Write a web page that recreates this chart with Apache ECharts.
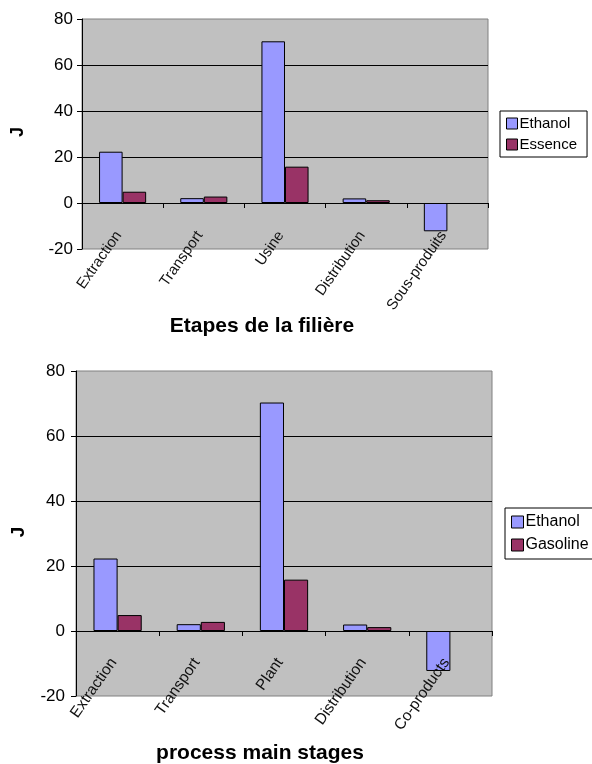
<!DOCTYPE html>
<html>
<head>
<meta charset="utf-8">
<script src="https://cdn.jsdelivr.net/npm/echarts@6/dist/echarts.min.js"></script>
<style>
  html, body { margin: 0; padding: 0; background: #fff; }
  #chart { width: 592px; height: 764px; }
</style>
</head>
<body>
<div id="chart"></div>
<script>
// Stage labels (French, then English)
const stagesFr = ['Extraction', 'Transport', 'Usine', 'Distribution', 'Sous-produits'];
const stagesEn = ['Extraction', 'Transport', 'Plant', 'Distribution', 'Co-products'];

// Energy per stage, J (no fossil-fuel entry for co-products)
const ethanolValues = [22.3, 2.1, 70.3, 2.0, -12.3];
const fossilValues  = [4.9, 2.8, 15.8, 1.2, null];

// Series names
const nameEthanol = 'Ethanol';
const nameEssence = 'Essence';
const nameGasoline = 'Gasoline';

// Value axis ticks
const yMin = -20, yMax = 80, yStep = 20;

const FONT = 'Liberation Sans, Arial, sans-serif';
const C_ETH = '#9999FF';
const C_FOS = '#993366';

const grids = [
  { left: 82, top: 19, width: 406, height: 230 },
  { left: 76, top: 371, width: 416, height: 325 }
];

function valueAxis(gridIndex, fontSize, margin) {
  return {
    type: 'value', gridIndex, min: yMin, max: yMax, interval: yStep,
    axisLine: { show: true, lineStyle: { color: '#000', width: 1 } },
    axisTick: { show: true, length: 5, lineStyle: { color: '#000' } },
    axisLabel: { color: '#000', fontFamily: FONT, fontSize, margin },
    splitLine: { show: true, showMinLine: false, showMaxLine: false, lineStyle: { color: '#000', width: 1 } }
  };
}

// The category axis sits on the zero line: shift it up from the grid bottom
// by the share of the value range that lies below zero.
function categoryAxis(gridIndex, data, fontSize, margin) {
  const zeroShift = grids[gridIndex].height * (0 - yMin) / (yMax - yMin);
  return {
    type: 'category', gridIndex, data,
    position: 'bottom', offset: -zeroShift,
    z: 5,
    axisLine: { show: true, onZero: false, lineStyle: { color: '#000', width: 1 } },
    axisTick: { show: true, length: 5, alignWithLabel: false, lineStyle: { color: '#000' } },
    axisLabel: { color: '#111', fontFamily: FONT, fontSize, rotate: 55, margin,
      padding: [0, 7, 0, 0], interval: 0, hideOverlap: false },
    splitLine: { show: false }
  };
}

function barSeries(name, data, color, axisIndex) {
  return {
    type: 'bar', name, data,
    xAxisIndex: axisIndex, yAxisIndex: axisIndex,
    barGap: '0%', barCategoryGap: '42%',
    itemStyle: { color, borderColor: '#000', borderWidth: 1 },
    emphasis: { disabled: true }
  };
}

function legend(data, left, top, fontSize, icon, gap, padding) {
  return {
    data, left, top, orient: 'vertical',
    itemWidth: icon, itemHeight: icon, itemGap: gap,
    padding,
    backgroundColor: '#fff', borderColor: '#000', borderWidth: 1,
    textStyle: { color: '#000', fontFamily: FONT, fontSize, padding: [0, 0, 0, -3] },
    icon: 'rect',
    itemStyle: { borderColor: '#000', borderWidth: 1 }
  };
}

function label(text, x, y, fontSize, rotation) {
  return {
    type: 'text', x, y, rotation: rotation || 0,
    style: {
      text, fill: '#000', font: 'bold ' + fontSize + 'px ' + FONT,
      align: 'center', verticalAlign: 'middle'
    }
  };
}

const chart = echarts.init(document.getElementById('chart'), null, { renderer: 'canvas' });

chart.setOption({
  animation: false,
  backgroundColor: '#fff',
  grid: grids.map(g => Object.assign({ show: true, backgroundColor: '#C0C0C0',
    borderColor: '#808080', borderWidth: 1 }, g)),
  xAxis: [
    categoryAxis(0, stagesFr, 15, 24),
    categoryAxis(1, stagesEn, 15.5, 23)
  ],
  yAxis: [
    valueAxis(0, 17, 9),
    valueAxis(1, 17, 11)
  ],
  legend: [
    legend([nameEthanol, nameEssence], 500, 111, 15, 11, 6, [5, 10, 5, 6]),
    legend([nameEthanol, nameGasoline], 505, 508, 16, 12, 7, [6, 10, 6, 6])
  ],
  series: [
    barSeries(nameEthanol, ethanolValues, C_ETH, 0),
    barSeries(nameEssence, fossilValues, C_FOS, 0),
    barSeries(nameEthanol, ethanolValues, C_ETH, 1),
    barSeries(nameGasoline, fossilValues, C_FOS, 1)
  ],
  graphic: [
    label('Etapes de la filière', 262, 326, 21),
    label('process main stages', 260, 753, 21),
    label('J', 18, 132, 18, Math.PI / 2),
    label('J', 19, 532, 19, Math.PI / 2)
  ]
});
</script>
</body>
</html>
